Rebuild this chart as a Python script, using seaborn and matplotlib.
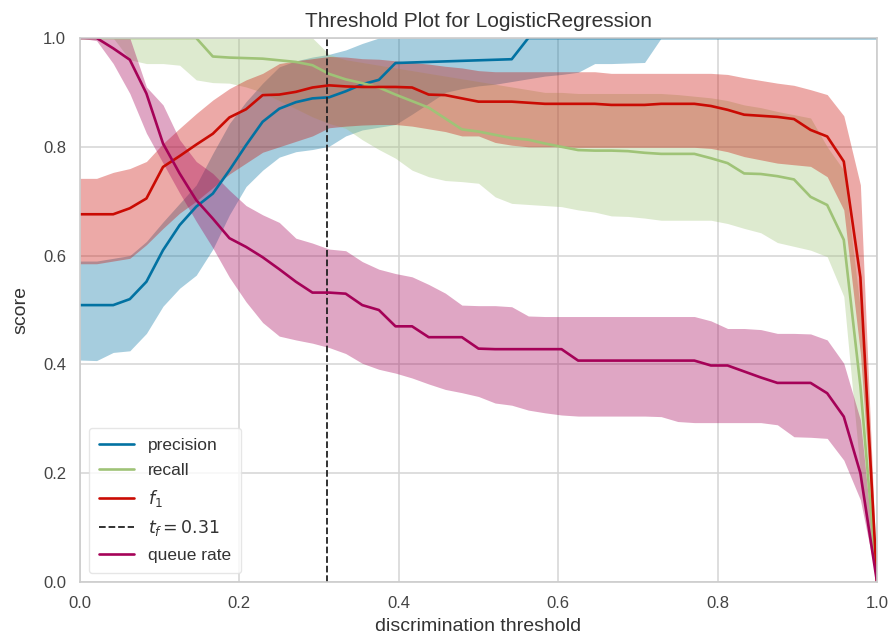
import numpy as np
import pandas as pd
import matplotlib
matplotlib.use("Agg")
import matplotlib.pyplot as plt
import seaborn as sns

# ---------------- data ----------------
n_points = 49
thresholds = np.linspace(0.0, 1.0, n_points)

precision = [0.509, 0.509, 0.509, 0.520, 0.552, 0.610, 0.656, 0.690, 0.714, 0.757,
             0.803, 0.846, 0.870, 0.882, 0.889, 0.891, 0.902, 0.915, 0.923, 0.954,
             0.955, 0.956, 0.957, 0.958, 0.959, 0.960, 0.961, 1.0, 1.0, 1.0,
             1.0, 1.0, 1.0, 1.0, 1.0, 1.0, 1.0, 1.0, 1.0, 1.0,
             1.0, 1.0, 1.0, 1.0, 1.0, 1.0, 1.0, 1.0, 1.0]
precision_lo = [0.408, 0.407, 0.422, 0.425, 0.457, 0.507, 0.540, 0.564, 0.612, 0.675,
                0.727, 0.757, 0.781, 0.791, 0.795, 0.801, 0.820, 0.831, 0.836, 0.841,
                0.860, 0.880, 0.900, 0.907, 0.912, 0.915, 0.920, 0.925, 0.930, 0.933,
                0.937, 0.953, 0.953, 0.954, 0.955, 1.0, 1.0, 1.0, 1.0, 1.0,
                1.0, 1.0, 1.0, 1.0, 1.0, 1.0, 1.0, 1.0, 1.0]
precision_hi = [0.590, 0.590, 0.595, 0.600, 0.626, 0.662, 0.696, 0.730, 0.788, 0.843,
                0.883, 0.917, 0.947, 0.958, 0.965, 0.970, 0.978, 0.990, 1.0, 1.0,
                1.0, 1.0, 1.0, 1.0, 1.0, 1.0, 1.0, 1.0, 1.0, 1.0,
                1.0, 1.0, 1.0, 1.0, 1.0, 1.0, 1.0, 1.0, 1.0, 1.0,
                1.0, 1.0, 1.0, 1.0, 1.0, 1.0, 1.0, 1.0, 1.0]

recall = [1.0, 1.0, 1.0, 1.0, 1.0, 1.0, 1.0, 1.0, 0.966, 0.964,
          0.963, 0.962, 0.959, 0.956, 0.950, 0.934, 0.924, 0.917, 0.909, 0.896,
          0.884, 0.872, 0.852, 0.832, 0.828, 0.822, 0.816, 0.813, 0.806, 0.800,
          0.794, 0.793, 0.793, 0.792, 0.789, 0.787, 0.787, 0.787, 0.779, 0.770,
          0.751, 0.750, 0.746, 0.740, 0.708, 0.693, 0.629, 0.360, 0.0]
recall_lo = [1.0, 1.0, 1.0, 0.960, 0.953, 0.953, 0.950, 0.923, 0.918, 0.917,
             0.910, 0.900, 0.885, 0.870, 0.855, 0.843, 0.834, 0.813, 0.795, 0.779,
             0.757, 0.745, 0.738, 0.736, 0.733, 0.708, 0.696, 0.694, 0.692, 0.690,
             0.684, 0.680, 0.673, 0.672, 0.669, 0.665, 0.665, 0.665, 0.665, 0.659,
             0.650, 0.642, 0.624, 0.617, 0.610, 0.598, 0.525, 0.200, 0.0]
recall_hi = [1.0, 1.0, 1.0, 1.0, 1.0, 1.0, 1.0, 1.0, 1.0, 1.0,
             1.0, 1.0, 1.0, 1.0, 1.0, 0.970, 0.960, 0.955, 0.950, 0.945,
             0.940, 0.935, 0.930, 0.925, 0.920, 0.915, 0.910, 0.905, 0.900, 0.900,
             0.898, 0.898, 0.898, 0.898, 0.898, 0.898, 0.896, 0.893, 0.890, 0.885,
             0.877, 0.872, 0.865, 0.859, 0.853, 0.800, 0.757, 0.500, 0.0]

f1 = [0.676, 0.676, 0.676, 0.687, 0.705, 0.763, 0.783, 0.804, 0.824, 0.854,
      0.869, 0.895, 0.896, 0.901, 0.909, 0.913, 0.911, 0.910, 0.910, 0.910,
      0.909, 0.896, 0.895, 0.889, 0.883, 0.883, 0.883, 0.881, 0.879, 0.879,
      0.879, 0.879, 0.877, 0.877, 0.877, 0.879, 0.879, 0.879, 0.875, 0.868,
      0.859, 0.857, 0.855, 0.851, 0.831, 0.819, 0.773, 0.560, 0.0]
f1_lo = [0.585, 0.585, 0.590, 0.595, 0.620, 0.650, 0.678, 0.700, 0.725, 0.750,
         0.770, 0.790, 0.800, 0.810, 0.820, 0.835, 0.838, 0.840, 0.841, 0.841,
         0.838, 0.833, 0.828, 0.820, 0.820, 0.808, 0.803, 0.800, 0.800, 0.800,
         0.799, 0.799, 0.799, 0.799, 0.799, 0.799, 0.799, 0.799, 0.797, 0.791,
         0.782, 0.776, 0.770, 0.767, 0.764, 0.745, 0.684, 0.420, 0.0]
f1_hi = [0.742, 0.742, 0.753, 0.760, 0.773, 0.806, 0.834, 0.861, 0.886, 0.907,
         0.923, 0.935, 0.953, 0.958, 0.962, 0.966, 0.965, 0.962, 0.961, 0.958,
         0.955, 0.952, 0.948, 0.945, 0.940, 0.938, 0.938, 0.938, 0.938, 0.938,
         0.938, 0.938, 0.935, 0.935, 0.935, 0.935, 0.935, 0.935, 0.935, 0.933,
         0.927, 0.922, 0.917, 0.913, 0.905, 0.896, 0.857, 0.730, 0.0]

queue_rate = [1.0, 1.0, 0.981, 0.960, 0.898, 0.806, 0.751, 0.702, 0.668, 0.632,
              0.616, 0.597, 0.575, 0.552, 0.532, 0.532, 0.530, 0.509, 0.500, 0.470,
              0.470, 0.450, 0.450, 0.450, 0.429, 0.428, 0.428, 0.428, 0.428, 0.428,
              0.407, 0.407, 0.407, 0.407, 0.407, 0.407, 0.407, 0.407, 0.398, 0.398,
              0.387, 0.376, 0.366, 0.366, 0.366, 0.347, 0.304, 0.200, 0.0]
queue_lo = [1.0, 0.995, 0.953, 0.898, 0.825, 0.770, 0.715, 0.663, 0.614, 0.560,
            0.515, 0.477, 0.452, 0.445, 0.439, 0.431, 0.420, 0.402, 0.391, 0.384,
            0.375, 0.364, 0.354, 0.348, 0.341, 0.329, 0.325, 0.316, 0.311, 0.307,
            0.305, 0.305, 0.305, 0.305, 0.305, 0.304, 0.295, 0.293, 0.293, 0.293,
            0.293, 0.293, 0.289, 0.267, 0.266, 0.264, 0.224, 0.151, 0.0]
queue_hi = [1.0, 1.0, 1.0, 1.0, 0.910, 0.877, 0.813, 0.773, 0.751, 0.720,
            0.692, 0.675, 0.661, 0.632, 0.623, 0.612, 0.609, 0.589, 0.575, 0.567,
            0.561, 0.547, 0.531, 0.509, 0.508, 0.508, 0.506, 0.489, 0.488, 0.488,
            0.488, 0.488, 0.488, 0.488, 0.488, 0.488, 0.488, 0.488, 0.480, 0.466,
            0.466, 0.464, 0.457, 0.457, 0.456, 0.445, 0.402, 0.298, 0.0]

best_threshold = 0.31

metric_labels = ["precision", "recall", "$f_1$", "queue rate"]
metric_colors = ["#0272a2", "#9fc377", "#ca0b03", "#a50258"]

# ---------------- style ----------------
sns.set_theme(style="whitegrid")
plt.rcParams["font.family"] = ["Liberation Sans", "DejaVu Sans"]
plt.rcParams["axes.edgecolor"] = "#cccccc"
plt.rcParams["grid.color"] = "#d5d5d5"

fig = plt.figure(figsize=(8.92, 6.40), dpi=100)
ax = fig.add_axes([80 / 892, 1 - 582 / 640, 797 / 892, 544 / 640])

series = [
    (precision, precision_lo, precision_hi),
    (recall, recall_lo, recall_hi),
    (f1, f1_lo, f1_hi),
    (queue_rate, queue_lo, queue_hi),
]

for k, ((med, lo, hi), label, color) in enumerate(zip(series, metric_labels, metric_colors)):
    df = pd.DataFrame({"threshold": thresholds, "score": med})
    sns.lineplot(data=df, x="threshold", y="score", ax=ax, color=color,
                 linewidth=1.9, label=label)
    ax.fill_between(thresholds, lo, hi, color=color, alpha=0.35, linewidth=0)
    if k == 2:
        ax.axvline(best_threshold, ls="--", color="#222222", lw=1.3,
                   label="$t_{f} = %0.2f$" % best_threshold)

ax.set_xlim(0, 1)
ax.set_ylim(0, 1)
ax.set_xticks([0.0, 0.2, 0.4, 0.6, 0.8, 1.0])
ax.set_yticks([0.0, 0.2, 0.4, 0.6, 0.8, 1.0])
ax.tick_params(axis="both", labelsize=12, colors="#444444", length=0)
ax.tick_params(axis="x", pad=10)
ax.tick_params(axis="y", pad=10)
ax.grid(True, color="#d5d5d5", linewidth=1.1)
for sp in ax.spines.values():
    sp.set_color("#cccccc")
    sp.set_linewidth(1.2)

ax.set_title("Threshold Plot for LogisticRegression", fontsize=15, color="#333333", pad=8)
ax.set_xlabel("discrimination threshold", fontsize=14, color="#333333", labelpad=5)
ax.set_ylabel("score", fontsize=14, color="#333333", labelpad=10)

leg = ax.legend(loc="lower left", frameon=True, fontsize=12.5, framealpha=0.8,
                borderpad=0.6, handlelength=2.0, labelspacing=0.55)
leg.get_frame().set_edgecolor("#e0e0e0")
for t in leg.get_texts():
    t.set_color("#333333")

fig.savefig("out.png", dpi=100)
